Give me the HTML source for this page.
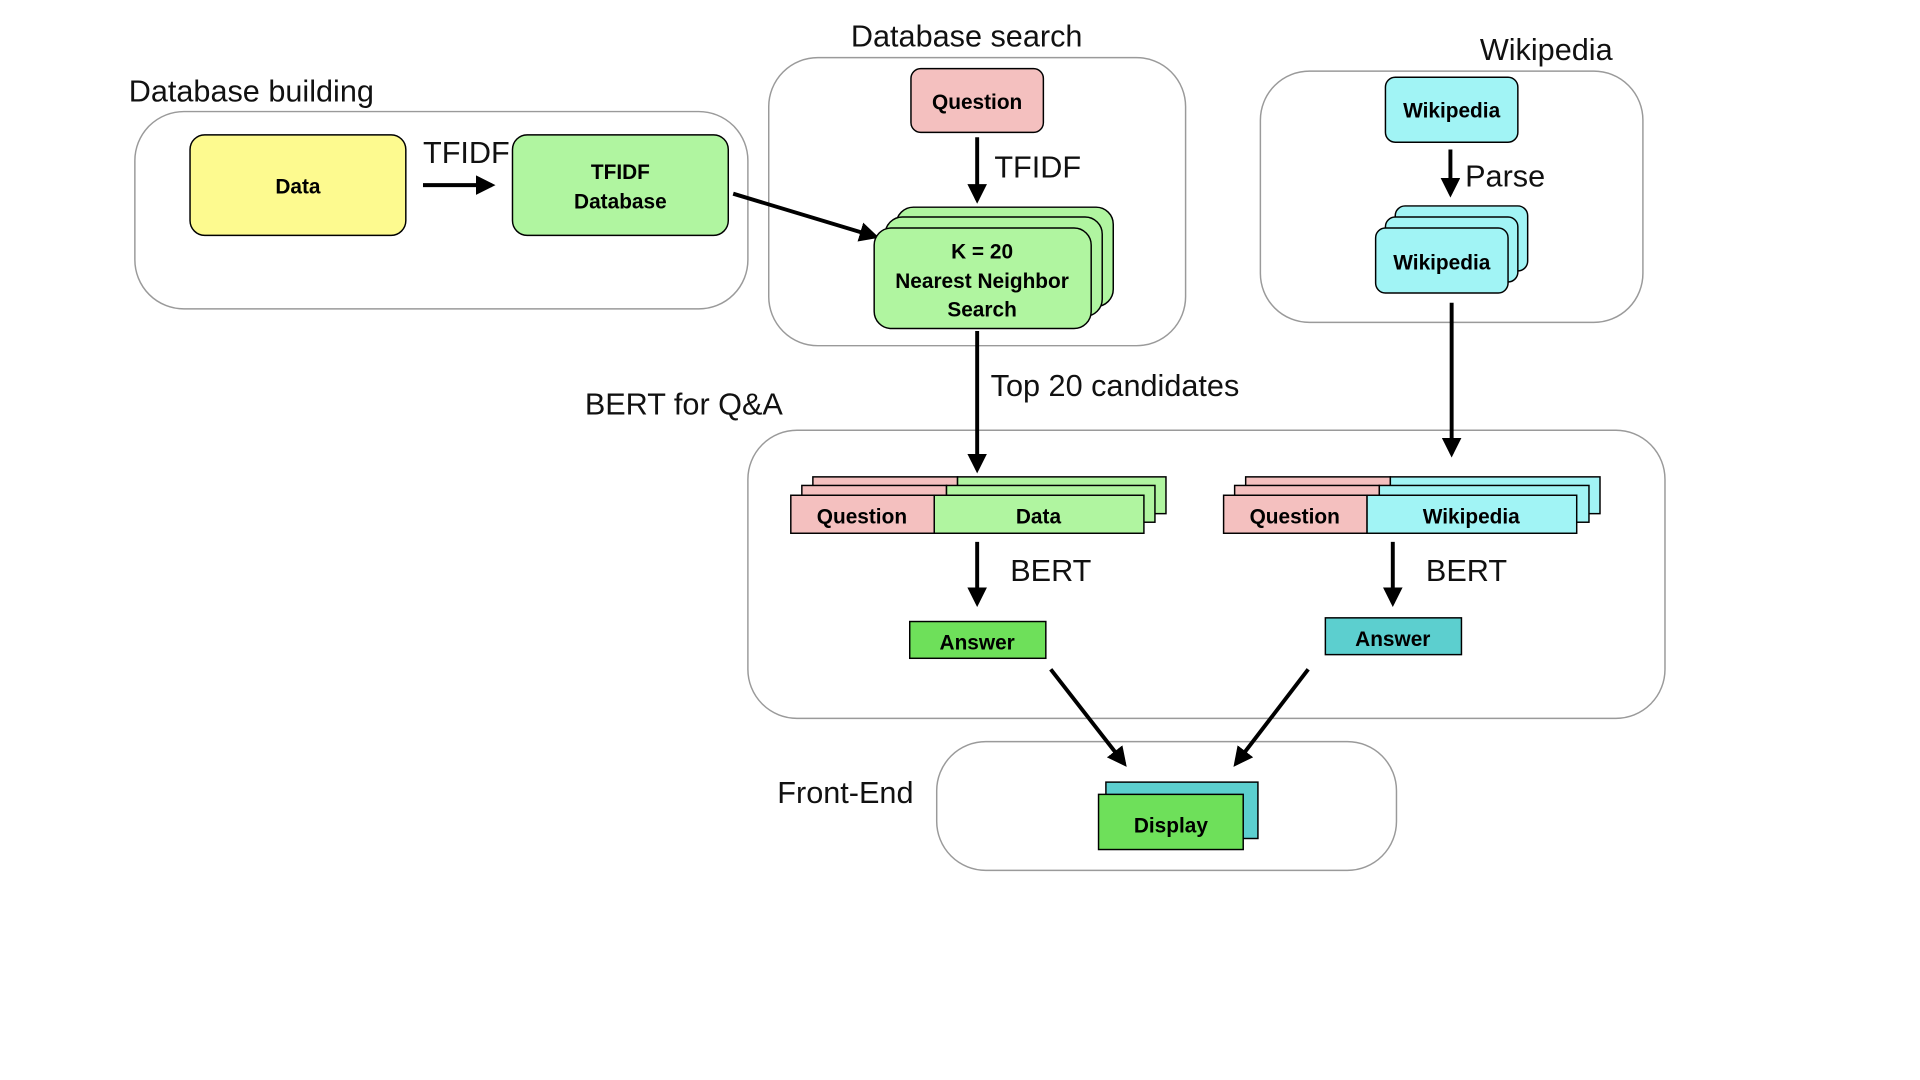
<!DOCTYPE html>
<html><head><meta charset="utf-8"><style>
html,body{margin:0;padding:0;background:#fff;width:1920px;height:1080px;overflow:hidden}
svg{display:block}
.t{font-family:"Liberation Sans",sans-serif;font-size:25px;fill:#111}
.b{font-family:"Liberation Sans",sans-serif;font-size:17px;font-weight:bold;fill:#000;text-anchor:middle}
.c{fill:none;stroke:#9a9a9a;stroke-width:1.2}
.n{stroke:#000;stroke-width:1.2}
.a{stroke:#000;stroke-width:3.2;fill:none}
</style></head><body>
<svg width="1920" height="1080" viewBox="0 0 1566 881" preserveAspectRatio="none">
<defs><marker id="m" viewBox="0 0 10 10" refX="8" refY="5" markerWidth="5" markerHeight="5" orient="auto" markerUnits="strokeWidth"><path d="M0,0 L10,5 L0,10 z" fill="#000"/></marker></defs>
<rect class="c" x="110" y="91" width="500" height="161" rx="40"/>
<rect class="c" x="627" y="47" width="340" height="235" rx="40"/>
<rect class="c" x="1028" y="58" width="312" height="205" rx="40"/>
<rect class="c" x="610" y="351" width="748" height="235" rx="40"/>
<rect class="c" x="764" y="605" width="375" height="105" rx="40"/>
<text class="t" x="105" y="83">Database building</text>
<text class="t" x="694" y="38">Database search</text>
<text class="t" x="1207" y="49">Wikipedia</text>
<text class="t" x="477" y="338">BERT for Q&amp;A</text>
<text class="t" x="634" y="655">Front-End</text>
<rect class="n" x="155" y="110" width="176" height="82" rx="12" fill="#fdfa8f"/>
<text class="b" x="243" y="158">Data</text>
<rect class="n" x="418" y="110" width="176" height="82" rx="12" fill="#b0f5a0"/>
<text class="b" x="506" y="146">TFIDF</text><text class="b" x="506" y="170">Database</text>
<line class="a" x1="345" y1="151" x2="401" y2="151" marker-end="url(#m)"/>
<text class="t" x="345" y="133">TFIDF</text>
<line class="a" x1="598" y1="158" x2="714" y2="193" marker-end="url(#m)"/>
<rect class="n" x="743" y="56" width="108" height="52" rx="8" fill="#f4c0bf"/>
<text class="b" x="797" y="89">Question</text>
<line class="a" x1="797" y1="112" x2="797" y2="163" marker-end="url(#m)"/>
<text class="t" x="811" y="145">TFIDF</text>
<rect class="n" x="731" y="169" width="177" height="81" rx="14" fill="#b0f5a0"/>
<rect class="n" x="722" y="177" width="177" height="81" rx="14" fill="#b0f5a0"/>
<rect class="n" x="713" y="186" width="177" height="82" rx="14" fill="#b0f5a0"/>
<text class="b" x="801" y="211">K = 20</text>
<text class="b" x="801" y="235">Nearest Neighbor</text>
<text class="b" x="801" y="258">Search</text>
<rect class="n" x="1130" y="63" width="108" height="53" rx="8" fill="#a1f4f5"/>
<text class="b" x="1184" y="96">Wikipedia</text>
<line class="a" x1="1183" y1="122" x2="1183" y2="158" marker-end="url(#m)"/>
<text class="t" x="1195" y="152">Parse</text>
<rect class="n" x="1138" y="168" width="108" height="53" rx="8" fill="#a1f4f5"/>
<rect class="n" x="1130" y="177" width="108" height="53" rx="8" fill="#a1f4f5"/>
<rect class="n" x="1122" y="186" width="108" height="53" rx="8" fill="#a1f4f5"/>
<text class="b" x="1176" y="220">Wikipedia</text>
<line class="a" x1="797" y1="270" x2="797" y2="383" marker-end="url(#m)"/>
<text class="t" x="808" y="323">Top 20 candidates</text>
<line class="a" x1="1184" y1="247" x2="1184" y2="370" marker-end="url(#m)"/>
<rect class="n" x="663" y="389" width="118" height="30" fill="#f4c0bf"/><rect class="n" x="781" y="389" width="170" height="30" fill="#b0f5a0"/>
<rect class="n" x="654" y="396" width="118" height="30" fill="#f4c0bf"/><rect class="n" x="772" y="396" width="170" height="30" fill="#b0f5a0"/>
<rect class="n" x="645" y="404" width="117" height="31" fill="#f4c0bf"/><rect class="n" x="762" y="404" width="171" height="31" fill="#b0f5a0"/>
<text class="b" x="703" y="427">Question</text><text class="b" x="847" y="427">Data</text>
<rect class="n" x="1016" y="389" width="118" height="30" fill="#f4c0bf"/><rect class="n" x="1134" y="389" width="171" height="30" fill="#a1f4f5"/>
<rect class="n" x="1007" y="396" width="118" height="30" fill="#f4c0bf"/><rect class="n" x="1125" y="396" width="171" height="30" fill="#a1f4f5"/>
<rect class="n" x="998" y="404" width="117" height="31" fill="#f4c0bf"/><rect class="n" x="1115" y="404" width="171" height="31" fill="#a1f4f5"/>
<text class="b" x="1056" y="427">Question</text><text class="b" x="1200" y="427">Wikipedia</text>
<line class="a" x1="797" y1="442" x2="797" y2="492" marker-end="url(#m)"/>
<text class="t" x="824" y="474">BERT</text>
<line class="a" x1="1136" y1="442" x2="1136" y2="492" marker-end="url(#m)"/>
<text class="t" x="1163" y="474">BERT</text>
<rect class="n" x="742" y="507" width="111" height="30" fill="#6ee05a"/>
<text class="b" x="797" y="530">Answer</text>
<rect class="n" x="1081" y="504" width="111" height="30" fill="#5ccfcf"/>
<text class="b" x="1136" y="527">Answer</text>
<line class="a" x1="857" y1="546" x2="917" y2="623" marker-end="url(#m)"/>
<line class="a" x1="1067" y1="546" x2="1008" y2="623" marker-end="url(#m)"/>
<rect class="n" x="902" y="638" width="124" height="46" fill="#5ccfcf"/>
<rect class="n" x="896" y="648" width="118" height="45" fill="#6ee05a"/>
<text class="b" x="955" y="679">Display</text>
</svg>
</body></html>
